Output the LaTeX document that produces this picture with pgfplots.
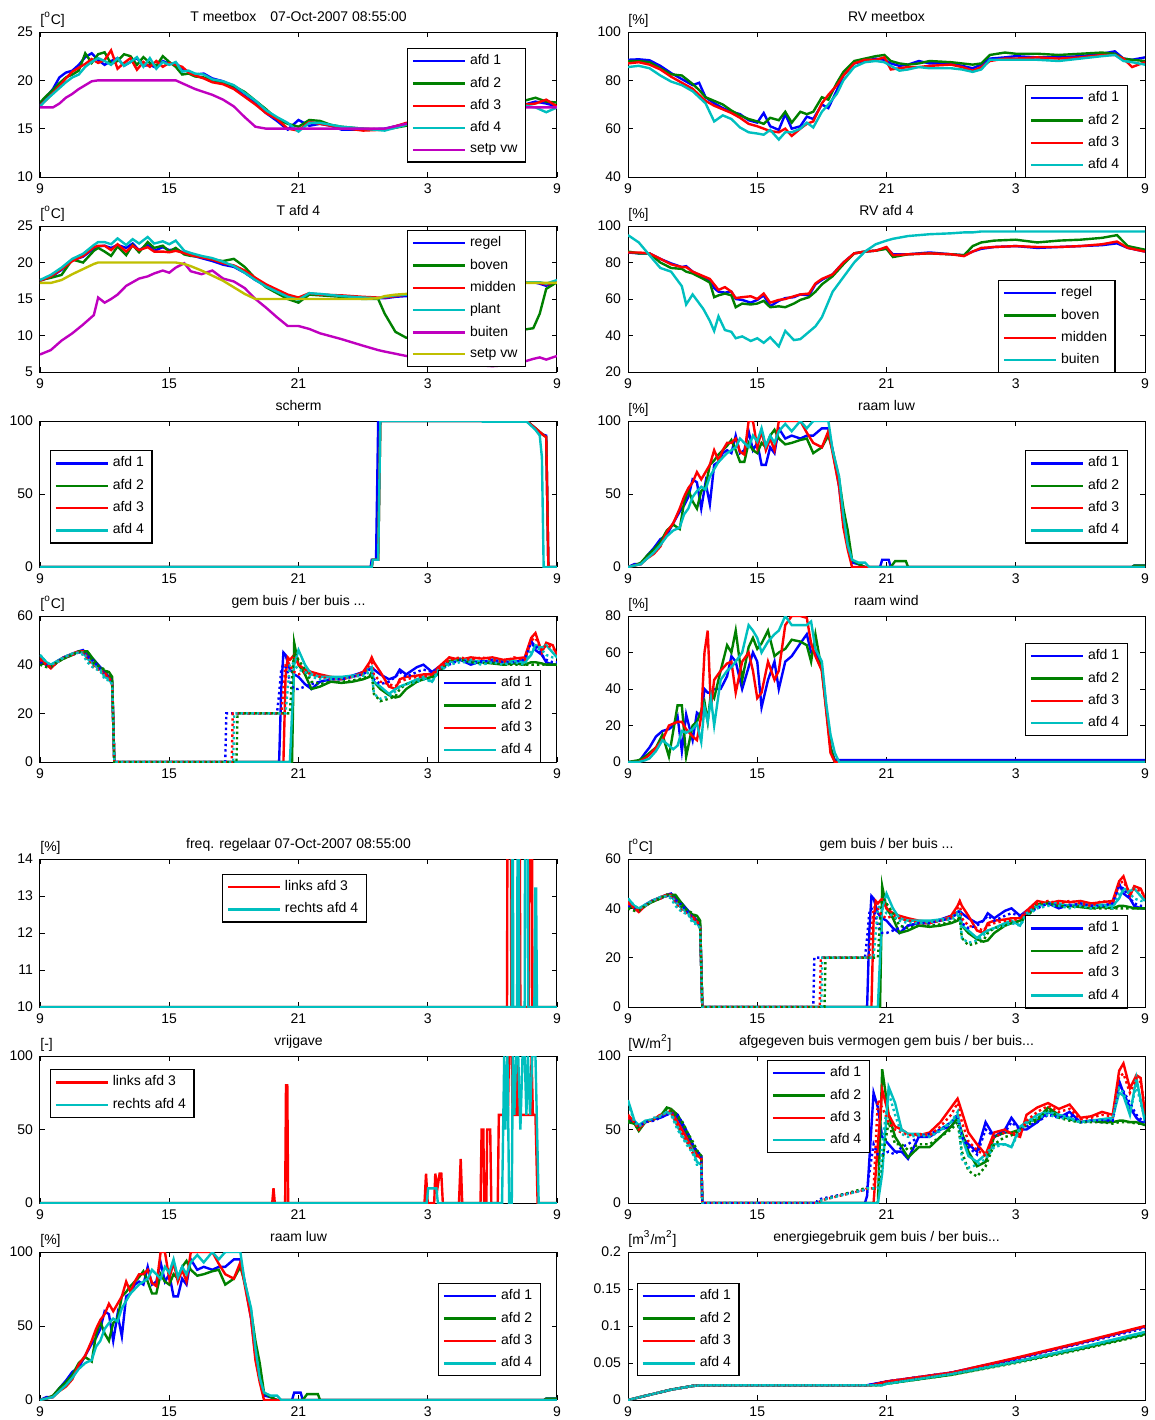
\documentclass[border=0pt]{standalone}
\usepackage{pgfplots}
\pgfplotsset{compat=1.18}
\usepackage{pgfplotstable}
\usepackage{fontspec}
\setmainfont{Liberation Sans}

\definecolor{mblue}{rgb}{0,0,1}
\definecolor{mgreen}{rgb}{0,0.5,0}
\definecolor{mred}{rgb}{1,0,0}
\definecolor{mcyan}{rgb}{0,0.75,0.75}
\definecolor{mmag}{rgb}{0.75,0,0.75}
\definecolor{molive}{rgb}{0.75,0.75,0}
\newcommand{\fs}{\fontsize{7}{8}\selectfont}

% T meetbox
\pgfplotstableread{
t a1 a2 a3 a4 sp
0    17.5 17.7 17.4 17.3 17.2
0.3  18.3 18.4 18.0 18.0 17.2
0.6  19.1 19.0 18.7 18.6 17.2
0.9  20.3 19.7 19.4 19.2 17.6
1.2  20.8 20.3 20.2 19.8 18.2
1.5  21.0 20.6 20.9 20.3 18.6
1.8  21.6 21.0 21.3 20.6 19.1
2.1  22.4 22.8 21.7 21.4 19.5
2.4  22.8 21.8 22.2 21.9 19.9
2.7  22.1 22.7 21.8 22.3 20.0
3.0  21.6 22.9 22.1 22.0 20.0
3.3  22.0 21.7 23.1 21.6 20.0
3.6  22.3 22.0 21.2 22.3 20.0
3.9  21.5 22.7 21.8 21.5 20.0
4.2  21.9 22.5 22.3 21.9 20.0
4.5  22.3 21.6 21.1 22.4 20.0
4.8  21.5 22.4 21.9 21.4 20.0
5.1  21.6 21.8 21.4 22.3 20.0
5.4  21.3 21.5 22.0 21.2 20.0
5.7  22.0 22.5 21.4 21.9 20.0
6.0  21.7 21.9 21.8 21.6 20.0
6.3  21.8 21.4 21.6 21.9 20.0
6.6  21.2 20.6 21.4 20.9 19.7
6.9  20.9 20.7 20.8 21.0 19.4
7.2  20.6 20.4 20.5 20.7 19.1
7.6  20.7 20.3 20.2 20.6 18.8
8    20.2 20.0 19.8 20.1 18.5
8.5  19.9 19.8 19.6 19.9 18.0
9    19.3 19.4 19.1 19.5 17.3
9.5  18.4 18.8 18.3 18.7 16.2
10   17.6 17.9 17.5 17.9 15.2
10.5 16.6 17.0 16.6 16.9 15.0
11   15.8 16.0 16.0 16.2 15.0
11.5 14.9 15.5 15.0 15.6 15.0
12   15.9 15.2 14.8 14.7 15.0
12.5 15.3 15.9 15.7 15.6 15.0
13   15.5 15.8 15.5 15.6 15.0
13.5 15.3 15.4 15.3 15.4 15.0
14   14.9 15.2 15.1 15.2 15.0
15   14.9 15.0 14.8 15.0 15.0
16   15.0 14.9 14.9 14.8 15.0
17   15.5 15.3 15.6 15.4 15.5
18   15.7 15.5 15.6 15.6 16.0
19   16.0 16.0 16.0 16.1 16.5
20   16.4 16.5 16.5 16.4 17.0
21   16.8 17.0 16.9 16.8 17.2
22   17.2 17.6 17.3 17.2 17.2
22.5 17.5 17.9 17.5 17.4 17.2
23   17.8 18.2 17.6 17.2 17.2
23.5 17.6 17.8 18.0 16.7 17.2
24   17.3 17.7 17.3 17.2 17.2
}\tabA

% RV meetbox
\pgfplotstableread{
t a1 a2 a3 a4
0    88.5 88.0 87.0 85.5
0.5  88.7 88.0 87.5 86.0
1.0  88.3 87.5 86.5 85.0
1.5  86.0 85.0 84.5 82.0
2.0  83.0 82.5 81.5 79.5
2.5  80.5 82.0 79.0 78.0
3.0  78.0 78.5 76.5 75.5
3.3  79.0 76.0 74.0 73.0
3.6  73.0 73.0 71.5 70.5
4.0  70.5 71.5 69.5 63.0
4.4  68.5 70.0 68.0 65.5
4.8  67.0 67.5 66.5 64.0
5.2  66.0 65.5 64.5 60.5
5.6  63.5 64.0 62.0 58.5
6.0  62.5 63.0 61.0 58.0
6.3  66.5 62.0 60.0 57.5
6.6  61.0 64.5 59.0 59.5
7.0  59.5 63.5 58.5 55.5
7.3  66.0 67.0 60.0 58.5
7.6  60.0 62.5 57.0 58.5
8.0  61.0 67.0 60.0 60.0
8.3  65.0 66.0 62.0 62.5
8.6  64.0 67.0 63.0 60.5
9.0  70.0 73.0 70.5 67.0
9.3  68.5 72.0 74.0 70.0
9.7  76.0 79.0 78.0 74.5
10.0 82.0 83.5 82.0 80.0
10.5 87.0 88.0 87.0 85.5
11.0 88.0 89.0 88.5 87.5
11.5 89.0 90.0 88.5 88.0
11.9 88.5 90.5 89.5 87.5
12.2 87.0 88.0 84.5 86.0
12.6 86.0 87.0 85.0 84.0
13.0 86.5 86.5 85.5 84.5
13.5 88.0 87.0 85.5 85.5
14.0 87.0 88.0 86.0 85.0
15.0 87.0 87.5 86.5 85.0
15.5 86.0 87.0 85.5 84.5
16.0 85.0 86.5 84.0 83.5
16.4 86.5 87.0 85.5 84.5
16.8 89.0 90.5 88.0 88.5
17.5 89.5 91.5 89.0 88.5
18.0 90.0 91.0 89.0 88.5
19.0 89.5 91.0 89.5 88.5
20.0 89.5 90.5 89.0 88.0
21.0 90.0 91.0 89.5 89.0
22.0 91.0 91.5 90.5 90.0
22.6 92.0 91.0 90.5 90.5
23.0 89.0 89.0 89.0 88.0
23.4 88.5 88.5 85.5 87.5
24.0 89.5 88.0 87.5 86.5
}\tabB

% T afd 4
\pgfplotstableread{
t re bo mi pl bu sp
0    17.5 17.6 17.5 17.6 7.4 17.2
0.5  18.0 17.9 18.1 18.3 8.0 17.2
1.0  19.0 18.3 19.1 19.3 9.3 17.6
1.5  20.3 20.4 20.2 20.5 10.3 18.4
2.0  20.8 20.0 20.9 21.2 11.5 19.1
2.5  21.9 21.6 22.1 22.4 12.8 19.8
2.7  22.2 22.0 22.3 22.8 15.2 20.0
3.0  22.3 21.5 22.3 22.8 14.5 20.0
3.3  22.0 20.9 21.7 22.5 15.0 20.0
3.6  22.4 22.2 22.5 23.3 15.6 20.0
4.0  22.0 21.0 21.5 22.4 16.8 20.0
4.3  22.6 22.4 22.3 23.2 17.3 20.0
4.6  21.7 21.4 21.7 22.6 17.8 20.0
5.0  22.4 22.8 22.1 23.5 18.1 20.0
5.3  21.6 22.0 21.5 22.6 18.5 20.0
5.7  22.1 22.3 21.5 22.9 18.9 20.0
6.0  21.7 21.5 21.4 22.5 18.6 20.0
6.3  21.8 22.0 21.6 23.0 19.3 20.0
6.7  21.3 21.1 21.3 21.6 19.9 19.8
7.0  21.0 20.9 21.0 21.3 18.8 19.5
7.5  20.6 20.8 20.7 20.9 18.4 18.9
8.0  20.2 20.4 20.4 20.6 18.9 18.2
8.5  19.7 20.2 19.9 20.1 17.8 17.5
9.0  19.4 20.5 19.6 19.5 17.4 16.6
9.5  18.6 19.4 18.9 18.6 16.5 15.7
10.0 17.6 17.8 17.9 17.6 15.0 15.0
10.5 16.8 16.6 17.0 16.7 13.8 15.0
11.0 16.0 15.8 16.3 16.0 12.5 15.0
11.5 15.4 15.0 15.6 15.3 11.3 15.0
12.0 15.0 14.5 15.2 14.9 11.3 15.0
12.5 15.7 15.6 15.8 15.8 10.9 15.0
13.0 15.6 15.5 15.6 15.7 10.3 15.0
14.0 15.4 15.3 15.5 15.4 9.5 15.0
15.0 15.2 15.0 15.3 15.2 8.6 15.0
15.7 15.1 15.0 15.2 15.1 8.0 15.1
16.0 15.1 13.0 15.2 15.3 7.8 15.4
16.5 15.3 10.5 15.4 15.5 7.5 15.6
17.0 15.4 9.7 15.6 15.6 7.2 15.7
18.0 15.6 9.5 15.8 15.8 6.8 16.0
19.0 16.0 9.8 16.1 16.1 6.5 16.3
20.0 16.4 10.0 16.5 16.5 6.0 16.7
21.0 16.8 10.3 16.9 16.9 5.8 17.0
22.0 17.1 10.6 17.2 17.2 6.0 17.2
22.9 17.3 11.0 17.3 17.3 6.8 17.2
23.2 17.1 13.0 17.2 17.3 7.0 17.2
23.5 16.8 16.4 17.0 17.1 6.7 17.2
24.0 17.5 17.3 17.4 17.6 7.2 17.2
}\tabC

% RV afd 4
\pgfplotstableread{
t re bo mi bu
0    85.5 86.0 85.5 95.0
0.5  85.0 85.0 85.5 91.0
1.0  85.0 85.0 85.0 84.0
1.5  82.0 80.0 82.0 77.0
2.0  79.5 77.0 79.0 75.0
2.5  77.5 76.5 77.5 67.0
2.7  78.0 75.0 77.5 57.0
3.0  75.0 74.0 75.0 62.5
3.5  72.0 71.0 72.5 54.5
3.8  70.0 69.0 71.0 48.0
4.0  66.0 61.0 68.0 42.5
4.2  64.0 62.0 65.0 50.5
4.5  63.5 63.0 66.5 43.0
4.8  64.0 62.0 64.0 42.0
5.0  60.0 55.5 60.5 38.5
5.3  59.5 57.5 61.0 39.5
5.7  58.0 57.0 61.5 37.0
6.0  59.5 57.5 60.0 38.5
6.3  62.0 59.0 63.0 36.0
6.6  56.0 55.5 58.0 39.0
7.0  59.0 56.0 59.5 34.0
7.3  60.5 55.5 60.0 42.5
7.7  61.0 57.5 61.5 37.5
8.0  62.5 59.5 62.5 38.0
8.4  62.0 61.0 63.0 42.0
8.7  68.0 64.0 68.5 45.0
9.0  70.5 68.0 71.0 50.0
9.5  73.5 72.5 73.5 64.0
10.0 80.0 79.0 80.0 72.0
10.5 85.0 85.0 85.0 80.0
11.0 86.0 86.0 86.0 86.0
11.5 86.5 86.5 86.5 90.0
12.0 88.0 87.5 88.5 92.0
12.3 84.5 83.0 84.0 93.0
13.0 84.5 84.5 84.5 94.5
14.0 85.5 85.0 85.0 95.5
15.0 84.5 84.5 84.5 96.0
15.6 84.0 84.0 83.5 96.5
16.0 86.0 89.0 86.0 96.5
16.4 87.5 91.0 88.0 97.0
17.0 88.5 92.0 88.5 97.0
18.0 89.0 92.5 89.0 97.0
19.0 88.0 91.0 88.5 97.0
20.0 88.5 92.0 88.5 97.0
21.0 89.0 92.5 89.0 97.0
22.0 89.5 93.5 90.0 97.0
22.7 90.5 95.0 91.5 97.0
23.2 88.0 89.0 88.0 97.0
24.0 86.0 87.0 86.0 97.0
}\tabD

% raam luw
\pgfplotstableread{
t a1 a2 a3 a4
0    0  0  0  0
0.3  2  1  1  1
0.6  2  3  2  2
0.9  8  8  6  6
1.2  13 12 9  10
1.5  19 17 14 15
1.8  22 25 24 21
2.1  30 29 30 25
2.4  38 26 40 27
2.6  42 44 48 36
2.8  48 53 54 40
3.0  60 45 58 48
3.2  58 40 65 52
3.4  40 52 60 55
3.6  58 55 65 53
3.8  43 70 70 62
4.0  70 73 80 67
4.2  72 77 73 72
4.4  78 80 80 75
4.6  80 83 85 78
4.8  78 87 85 80
5.0  90 80 88 82
5.2  78 72 79 88
5.4  80 72 77 85
5.6  93 85 100 82
5.8  80 80 100 90
6.0  85 78 82 86
6.2  70 85 93 95
6.4  70 82 80 83
6.6  82 90 88 90
6.8  78 94 80 85
7.0  95 88 100 93
7.3  88 84 100 98
7.6  90 85 100 93
8.0  88 87 100 100
8.3  90 88 92 95
8.6  90 78 85 100
9.0  95 82 82 100
9.3  95 90 93 100
9.5  80 80 78 80
9.8  55 60 55 62
10.0 30 40 27 35
10.2 15 25 12 15
10.4 3  5  0  5
10.7 2  2  0  3
11.0 0  0  0  3
11.2 0  0  0  0
11.7 0  0  0  0
11.8 5  0  0  0
12.1 5  0  0  0
12.2 0  0  0  0
12.4 0  4  0  0
12.9 0  4  0  0
13.0 0  0  0  0
23.4 0  0  0  0
23.5 1  1  0  0
24   1  1  0  0
}\tabE

% gem buis (g) / ber buis (b)
\pgfplotstableread{
t g1 g2 g3 g4 b1 b2 b3 b4
0     42   41   43   44   41   40   42   44
0.3   40   40   40   41   40   39   40   41
0.5   39.5 39.5 38.5 40   39   39   39   40
0.8   41.5 41   41   41.5 41   41   41   41
1.1   43   42.5 43   43   43   42.5 43   43
1.5   44.5 44   44.5 44.5 44   44   44   44.5
1.8   45.5 45.5 45.5 45   45   45.5 45   45
2.0   46   45.5 45.5 45   45   45   44.5 44
2.2   44   45.5 43   42.5 43   45.5 42   41
2.5   42   42   40   40   41.5 40.5 39   38.5
2.8   39   38.5 38   38   38   39   37.5 37.5
3.0   37   37.5 36.5 35   36.5 38   36   34
3.2   35   37   35   34   35   36.5 35   33.5
3.35  33   35   32   32   33   34   32   32
3.45  0    0    0    0    0    0    0    0
8.6   0    0    0    0    0    0    0    0
8.65  0    0    0    0    20   0    0    0
8.9   0    0    0    0    20   0    0    0
8.95  0    0    0    0    20   0    20   0
8.97  0    0    0    0    20   0    20   0
9.02  0    0    0    0    20   0    20   20
9.12  0    0    0    0    20   0    20   20
9.17  0    0    0    0    20   20   20   20
11.0  0    0    0    0    20   20   20   20
11.1  0    0    0    0    28   20   20   20
11.2  30   0    0    0    38   20   20   20
11.3  45   0    0    0    40   20   30   20
11.4  44   0    35   0    39   20   40   20
11.5  41   0    43   0    37   20   41   30
11.6  38   0    42   0    33   20   40   40
11.7  37   0    43   20   31   35   38   41
11.8  36   49   44   40   30   45   37   40
12.0  35   40   40   46   30   42   36   38
12.3  32   36   38   40   31   38   37   37
12.6  30   30   37   36   32   33   36   35
13.0  33   31   36   35   33   32   35   34
13.5  34   33   35   35   34   33   34   34
14.0  34   32.5 34.5 35   34   33   34   34.5
14.5  35.5 33   35   35.5 35   33.5 35   35
15.0  37   34   37   36   36   34.5 36   35.5
15.3  38.5 35   41   38.5 38   35.5 40   37
15.4  39   37   43   39   39   36   42   38
15.5  38   33   41   33   34   28   36   28
15.8  36   30   37   31   32   25   33   26
16.2  34   27.5 31   28   33   26   32   27
16.5  35   26.5 30   30   35   27   31   29
16.7  38   27   34   31   37   30   33   31
17.0  36   30   35   32   35   32   34   32
17.5  39   33   35.5 34   37   33   35   33
17.8  40   34   36   35   38   34   35   34
18.2  37   35   36   33   37   35   36   33
18.5  39   37   39   38   38   36   38   37
19.0  41   41.5 43   41   40   42   42   40
19.5  42   42.5 42   42   42   42   43   41
20.0  40   41   43   42   41   41   42   41
20.5  41.5 41   42.5 41   41   40.5 43   40
21.0  41   40.5 43   42   42   41   42   41
21.5  41.5 40   42   41   41   40   41   40
22.0  41   40.5 42.5 41.5 41   40   43   41
22.5  42   40   43   41   42   40   42   40
22.8  50   41   51   44   49   40   50   46
23.0  46   41   53   48   48   40   51   47
23.3  44   40.5 45   47   44   40   46   46
23.5  41   40   49   48   42   40   48   44
23.8  40   40   48   45   41   40   47   43
24.0  40   40   44   43   41   40   45   43
}\tabF

% raam wind
\pgfplotstableread{
t a1 a2 a3 a4
0    0  0  0  0
0.5  0  1  0  0
0.8  5  3  2  1
1.0  8  5  4  2
1.3  14 8  8  6
1.6  17 15 12 12
1.9  18 3  20 9
2.1  20 17 21 7
2.3  25 31 22 9
2.5  6  31 22 17
2.7  26 3  18 16
3.0  12 20 14 18
3.2  27 22 12 21
3.4  25 28 25 11
3.55 40 33 60 30
3.7  38 22 72 22
3.85 38 38 30 35
4.0  40 35 45 20
4.3  40 50 50 45
4.6  47 64 54 50
4.8  58 60 55 52
5.0  55 72 38 55
5.3  40 45 55 60
5.6  52 63 60 75
5.8  60 68 50 72
6.0  55 62 35 68
6.2  30 65 38 60
6.5  45 72 55 66
6.8  55 58 45 70
7.0  40 60 50 72
7.3  55 62 75 80
7.6  58 67 80 75
8.0  65 66 80 75
8.3  70 64 79 75
8.5  60 55 65 77
8.7  60 70 58 62
9.0  52 50 50 55
9.2  30 30 28 32
9.4  8  8  5  15
9.6  1  0  0  5
9.8  1  0  0  0
24   1  0  0  0
}\tabG

% afgegeven buis vermogen
\pgfplotstableread{
t g1 g2 g3 g4 b1 b2 b3 b4
0    57 55 60 70 56 56 58 68
0.3  55 54 55 56 55 54 55 55
0.5  52 49 50 53 52 50 51 52
0.8  55 55 55 56 55 55 55 55
1.2  57 57 57 57 56 57 57 58
1.5  58 59 60 59 58 59 60 59
1.8  60 65 61 62 60 64 61 62
2.0  62 64 63 61 61 63 62 60
2.3  58 60 55 52 60 58 53 50
2.5  53 55 50 46 55 56 48 45
2.8  45 46 42 40 47 47 40 38
3.0  38 40 36 36 40 42 34 34
3.2  34 35 33 28 35 36 32 26
3.4  32 32 30 26 33 32 30 26
3.45 0  0  0  0  0  0  0  0
8.75 0  0  0  0  0  0  0  0
8.8  0  0  0  0  2  0  0  0
9.0  0  0  0  0  3  2  2  2
11.0 0  0  0  0  9  10 9  9
11.1 5  0  0  0  10 10 10 10
11.4 75 0  0  0  40 10 10 10
11.6 65 0  40 0  33 10 70 10
11.8 45 91 77 20 33 30 65 40
12.1 40 60 60 79 35 55 55 75
12.4 35 45 52 68 33 40 50 60
12.7 35 38 50 50 38 40 48 47
13.0 30 31 47 47 40 36 46 45
13.5 45 38 46 47 45 40 47 46
14.0 45 38 48 46 47 40 46 45
14.5 50 45 55 50 50 45 52 49
15.0 52 52 65 55 55 50 60 55
15.3 58 58 71 60 60 55 68 62
15.5 45 48 62 45 45 35 55 30
15.8 40 35 48 32 38 22 42 24
16.2 35 25 40 28 33 18 36 26
16.6 55 28 33 33 50 25 32 30
17.0 45 45 48 40 45 40 45 38
17.5 50 48 50 40 48 45 48 40
17.8 58 48 47 38 55 46 48 38
18.2 50 50 45 52 50 50 47 50
18.5 50 55 60 55 52 53 56 54
19.0 55 57 65 60 55 56 62 58
19.5 62 65 68 62 60 64 66 60
20.0 58 60 64 60 58 58 62 58
20.5 62 57 67 58 60 56 64 57
21.0 55 55 58 55 55 55 57 55
21.5 56 56 59 56 56 55 58 56
22.0 55 55 62 57 56 55 60 57
22.5 57 55 60 58 56 54 59 57
22.8 83 56 90 75 80 55 86 78
23.0 75 56 95 73 76 55 88 75
23.3 65 55 78 60 68 55 75 62
23.6 58 55 87 85 60 54 85 80
23.8 55 54 85 70 57 54 82 68
24.0 55 53 60 55 56 53 65 57
}\tabH

\pgfplotsset{
  ml/.style={
    scale only axis, width=258.5pt, anchor=south west,
    xmin=0, xmax=24, xtick={0,6,12,18,24}, xticklabels={9,15,21,3,9},
    tick align=inside, major tick length=2.5pt,
    every tick/.style={black, line width=0.4pt},
    axis line style={line width=0.5pt},
    tick label style={font=\fs},
    /pgf/number format/assume math mode=true,
    every axis title shift=0pt,
    title style={font=\fs, at={(0.5,1)}, anchor=base, yshift=5.5pt},
    legend cell align=left,
    legend style={font=\fs, draw=black, line width=0.6pt, anchor=north west,
      inner xsep=2pt, inner ysep=1pt, row sep=0.6pt},
    legend image code/.code={\draw[#1] (0pt,0pt) -- (26pt,0pt);},
    every axis plot/.append style={line width=1.2pt},
  },
  unit/.style={extra description/.code={\node[anchor=base west, font=\fs, inner sep=0pt, yshift=4pt] at (0,1) {#1};}},
  dot/.style={dash pattern=on 1.2pt off 1.5pt, forget plot},
}

\begin{document}
\begin{tikzpicture}
\useasboundingbox (0,0) rectangle (577.5pt,-710pt);

% row 1 left: T meetbox
\begin{axis}[ml, at={(20pt,-88.5pt)}, height=72.5pt, ymin=10, ymax=25, ytick={10,15,20,25},
  title={T meetbox\quad 07-Oct-2007 08:55:00}, unit={[\textsuperscript{o}C]},
  legend style={at={(0.71,0.89)}}]
\addplot[mblue] table[x=t,y=a1] {\tabA};
\addplot[mgreen] table[x=t,y=a2] {\tabA};
\addplot[mred] table[x=t,y=a3] {\tabA};
\addplot[mcyan] table[x=t,y=a4] {\tabA};
\addplot[mmag] table[x=t,y=sp] {\tabA};
\legend{afd 1,afd 2,afd 3,afd 4,setp vw}
\end{axis}

% row 1 right: RV meetbox
\begin{axis}[ml, at={(314pt,-88.5pt)}, height=72.5pt, ymin=40, ymax=100, ytick={40,60,80,100},
  title={RV meetbox}, unit={[\%]},
  legend style={at={(0.768,0.634)}}]
\addplot[mblue] table[x=t,y=a1] {\tabB};
\addplot[mgreen] table[x=t,y=a2] {\tabB};
\addplot[mred] table[x=t,y=a3] {\tabB};
\addplot[mcyan] table[x=t,y=a4] {\tabB};
\legend{afd 1,afd 2,afd 3,afd 4}
\end{axis}

% row 2 left: T afd 4
\begin{axis}[ml, at={(20pt,-186pt)}, height=73pt, ymin=5, ymax=25, ytick={5,10,15,20,25},
  title={T afd 4}, unit={[\textsuperscript{o}C]},
  legend style={at={(0.71,0.973)}}]
\addplot[mblue] table[x=t,y=re] {\tabC};
\addplot[mgreen] table[x=t,y=bo] {\tabC};
\addplot[mred] table[x=t,y=mi] {\tabC};
\addplot[mcyan] table[x=t,y=pl] {\tabC};
\addplot[mmag] table[x=t,y=bu] {\tabC};
\addplot[molive] table[x=t,y=sp] {\tabC};
\legend{regel,boven,midden,plant,buiten,setp vw}
\end{axis}

% row 2 right: RV afd 4
\begin{axis}[ml, at={(314pt,-186pt)}, height=73pt, ymin=20, ymax=100, ytick={20,40,60,80,100},
  title={RV afd 4}, unit={[\%]},
  legend style={at={(0.716,0.63)}}]
\addplot[mblue] table[x=t,y=re] {\tabD};
\addplot[mgreen] table[x=t,y=bo] {\tabD};
\addplot[mred] table[x=t,y=mi] {\tabD};
\addplot[mcyan] table[x=t,y=bu] {\tabD};
\legend{regel,boven,midden,buiten}
\end{axis}

% row 3 left: scherm
\begin{axis}[ml, at={(20pt,-283.5pt)}, height=73pt, ymin=0, ymax=100, ytick={0,50,100},
  title={scherm},
  legend style={at={(0.019,0.80)}}]
\addplot[mblue] coordinates {(0,0)(15.35,0)(15.4,5)(15.6,5)(15.7,100)(22.6,100)(23.0,95)(23.3,91)(23.5,90)(23.6,0)(24,0)};
\addplot[mgreen] coordinates {(0,0)(15.4,0)(15.45,5)(15.7,5)(15.8,100)(22.6,100)(23.0,95)(23.4,90)(23.5,89)(23.6,0)(24,0)};
\addplot[mred] coordinates {(0,0)(15.4,0)(15.45,5)(15.7,5)(15.8,100)(22.6,100)(23.0,95)(23.4,90)(23.5,89)(23.6,0)(24,0)};
\addplot[mcyan] coordinates {(0,0)(15.4,0)(15.45,5)(15.7,5)(15.8,100)(20.5,100)(20.55,99.5)(22.6,99.5)(23.0,94)(23.2,90)(23.3,75)(23.38,0)(24,0)};
\legend{afd 1,afd 2,afd 3,afd 4}
\end{axis}

% row 3 right: raam luw
\begin{axis}[ml, at={(314pt,-283.5pt)}, height=73pt, ymin=0, ymax=100, ytick={0,50,100},
  title={raam luw}, unit={[\%]},
  legend style={at={(0.768,0.80)}}]
\addplot[mblue] table[x=t,y=a1] {\tabE};
\addplot[mgreen] table[x=t,y=a2] {\tabE};
\addplot[mred] table[x=t,y=a3] {\tabE};
\addplot[mcyan] table[x=t,y=a4] {\tabE};
\legend{afd 1,afd 2,afd 3,afd 4}
\end{axis}

% row 4 left: gem buis / ber buis
\begin{axis}[ml, at={(20pt,-381pt)}, height=73pt, ymin=0, ymax=60, ytick={0,20,40,60},
  title={gem buis / ber buis ...}, unit={[\textsuperscript{o}C]},
  legend style={at={(0.77,0.63)}}]
\addplot[mblue] table[x=t,y=g1] {\tabF};
\addplot[mgreen] table[x=t,y=g2] {\tabF};
\addplot[mred] table[x=t,y=g3] {\tabF};
\addplot[mcyan] table[x=t,y=g4] {\tabF};
\addplot[mblue,dot] table[x=t,y=b1] {\tabF};
\addplot[mgreen,dot] table[x=t,y=b2] {\tabF};
\addplot[mred,dot] table[x=t,y=b3] {\tabF};
\addplot[mcyan,dot] table[x=t,y=b4] {\tabF};
\legend{afd 1,afd 2,afd 3,afd 4}
\end{axis}

% row 4 right: raam wind
\begin{axis}[ml, at={(314pt,-381pt)}, height=73pt, ymin=0, ymax=80, ytick={0,20,40,60,80},
  title={raam wind}, unit={[\%]},
  legend style={at={(0.768,0.815)}}]
\addplot[mblue] table[x=t,y=a1] {\tabG};
\addplot[mgreen] table[x=t,y=a2] {\tabG};
\addplot[mred] table[x=t,y=a3] {\tabG};
\addplot[mcyan] table[x=t,y=a4] {\tabG};
\legend{afd 1,afd 2,afd 3,afd 4}
\end{axis}

% row 5 left: freq. regelaar
\begin{axis}[ml, at={(20pt,-503.5pt)}, height=74pt, ymin=10, ymax=14, ytick={10,11,12,13,14},
  title={freq. regelaar 07-Oct-2007 08:55:00}, unit={[\%]},
  legend style={at={(0.352,0.90)}}]
\addplot[mred] coordinates {(0,10)(21.68,10)(21.72,20)(21.84,20)(21.88,10)(22.2,10)(22.24,20)(22.3,10)(22.7,10)(22.75,20)(22.82,20)(22.86,10)(24,10)};
\addplot[mcyan] coordinates {(0,10)(21.9,10)(21.93,20)(21.97,10)(22.15,10)(22.19,20)(22.25,10)(22.5,10)(22.54,20)(22.62,20)(22.66,10)(22.95,10)(22.99,13.2)(23.03,13.2)(23.07,10)(24,10)};
\legend{links afd 3,rechts afd 4}
\end{axis}

% row 5 right: gem buis / ber buis (repeat)
\begin{axis}[ml, at={(314pt,-503.5pt)}, height=74pt, ymin=0, ymax=60, ytick={0,20,40,60},
  title={gem buis / ber buis ...}, unit={[\textsuperscript{o}C]},
  legend style={at={(0.768,0.62)}}]
\addplot[mblue] table[x=t,y=g1] {\tabF};
\addplot[mgreen] table[x=t,y=g2] {\tabF};
\addplot[mred] table[x=t,y=g3] {\tabF};
\addplot[mcyan] table[x=t,y=g4] {\tabF};
\addplot[mblue,dot] table[x=t,y=b1] {\tabF};
\addplot[mgreen,dot] table[x=t,y=b2] {\tabF};
\addplot[mred,dot] table[x=t,y=b3] {\tabF};
\addplot[mcyan,dot] table[x=t,y=b4] {\tabF};
\legend{afd 1,afd 2,afd 3,afd 4}
\end{axis}

% row 6 left: vrijgave
\begin{axis}[ml, at={(20pt,-601.5pt)}, height=73.5pt, ymin=0, ymax=100, ytick={0,50,100},
  title={vrijgave}, unit={[-]},
  legend style={at={(0.019,0.91)}}]
\addplot[mred] coordinates {(0,0)(10.78,0)(10.84,10)(10.9,0)(11.38,0)(11.42,80)(11.48,80)(11.52,0)(17.85,0)(17.92,20)(18.0,0)(18.3,0)(18.35,20)(18.45,10)(18.55,20)(18.63,20)(18.7,0)(19.45,0)(19.53,30)(19.6,0)(20.45,0)(20.5,50)(20.58,50)(20.62,0)(20.72,0)(20.76,50)(20.9,50)(20.95,0)(21.25,0)(21.3,60)(21.72,60)(21.77,100)(21.9,100)(21.94,60)(22.1,60)(22.14,100)(22.2,60)(22.78,60)(22.82,100)(22.88,60)(23.0,60)(23.1,0)(24,0)};
\addplot[mcyan] coordinates {(0,0)(17.95,0)(18.02,10)(18.4,10)(18.47,0)(21.45,0)(21.55,100)(21.6,50)(21.7,100)(21.78,0)(21.9,0)(21.95,100)(22.02,60)(22.1,100)(22.2,100)(22.3,50)(22.4,100)(22.5,100)(22.58,60)(22.65,100)(22.75,60)(22.85,100)(23.0,100)(23.15,0)(24,0)};
\legend{links afd 3,rechts afd 4}
\end{axis}

% row 6 right: afgegeven buis vermogen
\begin{axis}[ml, at={(314pt,-601.5pt)}, height=73.5pt, ymin=0, ymax=100, ytick={0,50,100},
  title={afgegeven buis vermogen gem buis / ber buis...}, unit={[W/m\textsuperscript{2}]},
  legend style={at={(0.269,0.973)}}]
\addplot[mblue] table[x=t,y=g1] {\tabH};
\addplot[mgreen] table[x=t,y=g2] {\tabH};
\addplot[mred] table[x=t,y=g3] {\tabH};
\addplot[mcyan] table[x=t,y=g4] {\tabH};
\addplot[mblue,dot] table[x=t,y=b1] {\tabH};
\addplot[mgreen,dot] table[x=t,y=b2] {\tabH};
\addplot[mred,dot] table[x=t,y=b3] {\tabH};
\addplot[mcyan,dot] table[x=t,y=b4] {\tabH};
\legend{afd 1,afd 2,afd 3,afd 4}
\end{axis}

% row 7 left: raam luw (repeat)
\begin{axis}[ml, at={(20pt,-700pt)}, height=74pt, ymin=0, ymax=100, ytick={0,50,100},
  title={raam luw}, unit={[\%]},
  legend style={at={(0.77,0.79)}}]
\addplot[mblue] table[x=t,y=a1] {\tabE};
\addplot[mgreen] table[x=t,y=a2] {\tabE};
\addplot[mred] table[x=t,y=a3] {\tabE};
\addplot[mcyan] table[x=t,y=a4] {\tabE};
\legend{afd 1,afd 2,afd 3,afd 4}
\end{axis}

% row 7 right: energiegebruik
\begin{axis}[ml, at={(314pt,-700pt)}, height=74pt, ymin=0, ymax=0.2,
  ytick={0,0.05,0.1,0.15,0.2}, yticklabels={0,0.05,0.1,0.15,0.2}, scaled y ticks=false,
  title={energiegebruik gem buis / ber buis...}, unit={[m\textsuperscript{3}/m\textsuperscript{2}]},
  legend style={at={(0.017,0.79)}}]
\addplot[mblue] coordinates {(0,0)(1,0.007)(2,0.014)(3,0.019)(3.45,0.02)(11.1,0.02)(12,0.025)(15,0.037)(18,0.056)(21,0.077)(24,0.099)};
\addplot[mgreen] coordinates {(0,0)(1,0.007)(2,0.014)(3,0.019)(3.45,0.02)(11.7,0.02)(12,0.022)(15,0.034)(18,0.051)(21,0.069)(24,0.089)};
\addplot[mred] coordinates {(0,0)(1,0.007)(2,0.014)(3,0.019)(3.45,0.02)(11.3,0.02)(12,0.025)(15,0.037)(18,0.057)(21,0.078)(24,0.100)};
\addplot[mcyan] coordinates {(0,0)(1,0.007)(2,0.014)(3,0.019)(3.45,0.02)(11.8,0.02)(12,0.022)(15,0.035)(18,0.052)(21,0.071)(24,0.092)};
\addplot[mblue,dot] coordinates {(0,0)(1,0.007)(2,0.014)(3,0.019)(3.45,0.02)(11.1,0.02)(12,0.025)(15,0.037)(18,0.055)(21,0.076)(24,0.097)};
\addplot[mgreen,dot] coordinates {(0,0)(1,0.007)(2,0.014)(3,0.019)(3.45,0.02)(11.7,0.02)(12,0.022)(15,0.034)(18,0.050)(21,0.068)(24,0.088)};
\addplot[mred,dot] coordinates {(0,0)(1,0.007)(2,0.014)(3,0.019)(3.45,0.02)(11.3,0.02)(12,0.025)(15,0.037)(18,0.056)(21,0.077)(24,0.099)};
\addplot[mcyan,dot] coordinates {(0,0)(1,0.007)(2,0.014)(3,0.019)(3.45,0.02)(11.8,0.02)(12,0.022)(15,0.035)(18,0.051)(21,0.070)(24,0.091)};
\legend{afd 1,afd 2,afd 3,afd 4}
\end{axis}
\end{tikzpicture}
\end{document}
